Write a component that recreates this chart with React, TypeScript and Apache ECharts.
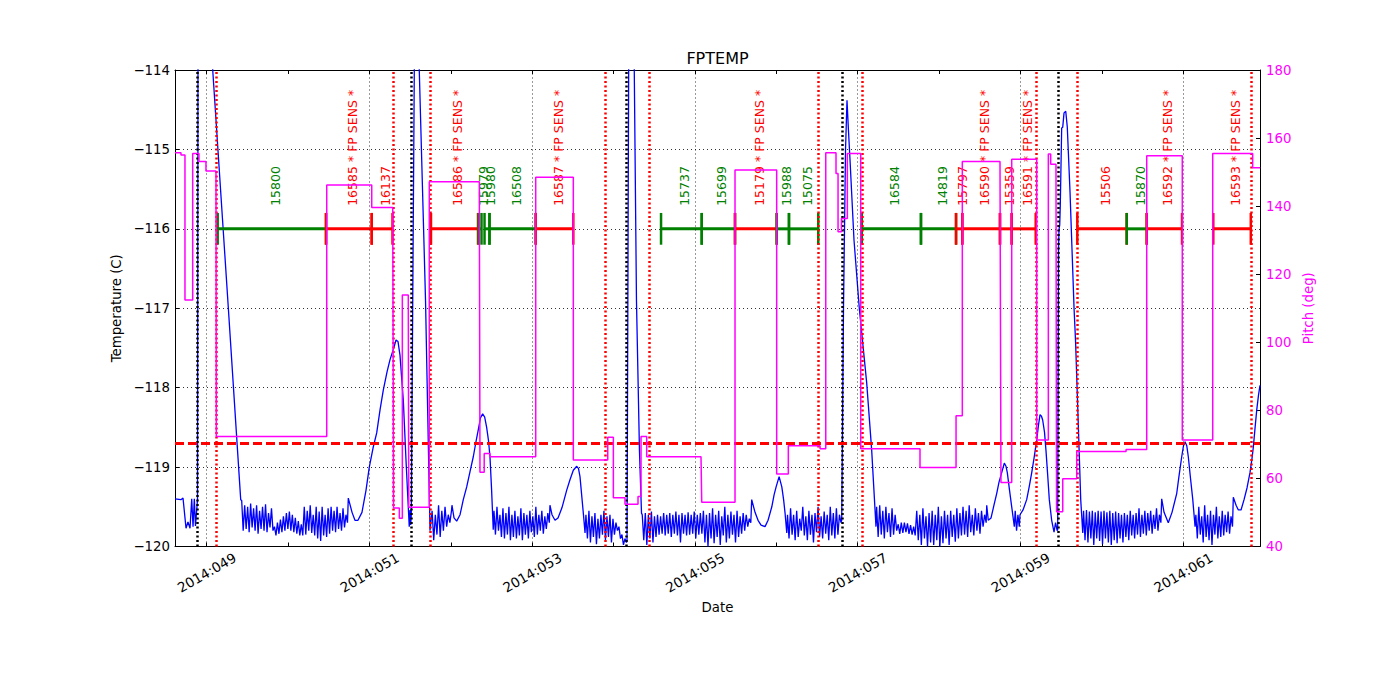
import React, { useEffect, useRef } from "react";
import * as echarts from "echarts";

const FONT = "DejaVu Sans";
const BLUE = "#0000ff";
const MAGENTA = "#ff00ff";
const RED = "#ff0000";
const GREEN = "#008000";

// x axis (day of year 2014)
const X_MIN = 48.6105;
const X_MAX = 61.943;
const DAY_TICKS = [49, 50, 51, 52, 53, 54, 55, 56, 57, 58, 59, 60, 61];
const DAY_LABELS = [49, 51, 53, 55, 57, 59, 61];
const TEMP_TICKS = { min: -120, max: -114, step: 1 };
const PITCH_TICKS = { min: 40, max: 180, step: 20 };

const TEMP_LIMIT = -118.7;
const BAR_TEMP = -116;

const BLACK_EVENTS = [48.877, 51.507, 54.165, 56.815, 59.465];
const RED_EVENTS = [49.123, 51.286, 51.753, 53.903, 54.435, 56.524, 57.049, 59.194, 59.698, 61.829];

// observations
const OBS_START = [49.135, 50.466, 51.028, 51.756, 52.34, 52.414, 52.475, 53.043, 54.583, 55.083, 55.492, 56.004, 56.155, 57.049, 57.777, 58.208, 58.285, 58.748, 58.892, 59.698, 60.305, 60.551, 61.369];
const OBS_END = [50.466, 51.028, 51.283, 52.334, 52.377, 52.475, 53.043, 53.505, 55.083, 55.492, 56.004, 56.155, 56.515, 57.777, 58.208, 58.285, 58.748, 58.892, 59.187, 60.305, 60.551, 60.985, 61.83];
const OBS_KIND = [0, 1, 1, 1, 0, 0, 0, 1, 0, 0, 1, 0, 0, 0, 0, 1, 1, 1, 1, 1, 0, 1, 1];
const OBS_LABEL = [
  "15800", "16585 * FP SENS *", "16137", "16586 * FP SENS *", "15979", "15980", "16508",
  "16587 * FP SENS *", "15737", "15699", "15179 * FP SENS *", "15988", "15075", "16584",
  "14819", "15797", "16590 * FP SENS *", "15359", "16591 * FP SENS *", "15506", "15870",
  "16592 * FP SENS *", "16593 * FP SENS *",
];

// pitch (deg), step line
const PITCH = [
  [48.6105, 155.7], [48.684, 155.7], [48.684, 155.0], [48.733, 155.0], [48.733, 112.4], [48.828, 112.4],
  [48.828, 155.5], [48.905, 155.5], [48.905, 153.1], [48.991, 153.1], [48.991, 150.3], [49.114, 150.3],
  [49.118, 72.3], [50.475, 72.3], [50.475, 146.2], [51.028, 146.2], [51.028, 139.6], [51.286, 139.6],
  [51.296, 51.3], [51.367, 51.3], [51.367, 48.3], [51.404, 48.3], [51.404, 113.9], [51.477, 113.9],
  [51.483, 51.5], [51.735, 51.5], [51.735, 147.2], [52.35, 147.2], [52.358, 61.8], [52.41, 61.8],
  [52.41, 67.3], [52.48, 67.3], [52.48, 66.4], [53.043, 66.4], [53.043, 148.5], [53.505, 148.5],
  [53.505, 65.4], [53.928, 65.4], [53.928, 72.1], [53.997, 72.1], [53.997, 54.3], [54.14, 54.3],
  [54.14, 52.4], [54.3, 52.4], [54.3, 54.7], [54.337, 54.7], [54.337, 72.3], [54.407, 72.3],
  [54.407, 66.4], [55.074, 66.4], [55.083, 53.0], [55.492, 53.0], [55.492, 150.6], [56.004, 150.6],
  [56.004, 61.3], [56.147, 61.3], [56.147, 69.6], [56.537, 69.6], [56.537, 68.7], [56.607, 68.7],
  [56.607, 155.7], [56.733, 155.7], [56.733, 149.6], [56.758, 149.6], [56.758, 132.5], [56.8, 132.5],
  [56.8, 136.4], [56.872, 136.4], [56.872, 155.5], [57.037, 155.5], [57.037, 68.7], [57.765, 68.7],
  [57.765, 63.2], [58.208, 63.2], [58.208, 78.4], [58.285, 78.4], [58.285, 153.1], [58.748, 153.1],
  [58.76, 58.8], [58.892, 58.8], [58.892, 153.8], [59.199, 153.8], [59.199, 71.3], [59.342, 71.3],
  [59.342, 155.3], [59.371, 155.3], [59.371, 152.3], [59.436, 152.3], [59.443, 50.2], [59.519, 50.2],
  [59.519, 59.9], [59.691, 59.9], [59.691, 67.9], [60.297, 67.9], [60.297, 68.5], [60.551, 68.5],
  [60.551, 154.8], [60.988, 154.8], [60.988, 71.3], [61.362, 71.3], [61.362, 155.5], [61.853, 155.5],
  [61.853, 151.3], [61.943, 151.3],
];

// temperature (C): smooth stretches as [day, temp] pairs
const T_A = [[48.611, -119.4], [48.684, -119.41], [48.709, -119.39], [48.746, -119.77], [48.77, -119.69], [48.795, -119.77], [48.816, -119.4], [48.832, -119.75], [48.848, -119.4], [48.862, -119.74], [48.875, -119.57], [48.887, -119.41], [48.893, -114.0], [48.897, -110.0], [48.95, -109.8], [49.074, -114.0], [49.266, -117.0], [49.418, -119.41]];
const T_B = [[50.74, -119.39], [50.786, -119.57], [50.822, -119.67], [50.859, -119.67], [50.908, -119.57], [50.958, -119.29], [50.998, -119.0], [51.044, -118.76], [51.089, -118.57], [51.13, -118.28], [51.17, -118.03], [51.216, -117.8], [51.252, -117.65], [51.302, -117.49], [51.326, -117.4], [51.351, -117.42], [51.375, -117.59], [51.416, -118.16], [51.449, -118.91], [51.477, -119.5], [51.489, -119.75], [51.498, -119.54], [51.507, -119.73], [51.514, -119.6], [51.551, -114.0], [51.56, -111.0], [51.585, -110.8], [51.612, -114.0], [51.689, -116.9], [51.744, -119.8]];
const T_C = [[52.014, -119.48], [52.039, -119.64], [52.072, -119.68], [52.113, -119.6], [52.153, -119.41], [52.195, -119.25], [52.235, -119.06], [52.276, -118.87], [52.309, -118.68], [52.337, -118.53], [52.364, -118.38], [52.391, -118.33], [52.416, -118.37], [52.44, -118.5], [52.462, -118.66], [52.481, -118.87], [52.501, -119.29], [52.521, -119.79]];
const T_D = [[53.218, -119.48], [53.243, -119.6], [53.28, -119.67], [53.317, -119.64], [53.366, -119.51], [53.424, -119.29], [53.464, -119.16], [53.505, -119.04], [53.547, -118.99], [53.569, -119.02], [53.587, -119.12], [53.628, -119.58], [53.649, -119.83]];
const T_E = [[54.165, -119.92], [54.185, -114.0], [54.19, -111.0], [54.22, -110.8], [54.254, -114.0], [54.281, -116.9], [54.318, -118.8], [54.343, -119.58]];
const T_F = [[55.697, -119.41], [55.738, -119.57], [55.775, -119.67], [55.812, -119.73], [55.861, -119.75], [55.898, -119.67], [55.944, -119.5], [55.972, -119.35], [55.997, -119.25], [56.034, -119.12], [56.067, -119.25], [56.089, -119.41], [56.107, -119.58], [56.128, -119.83]];
const T_G = [[56.803, -119.67], [56.825, -117.0], [56.85, -115.0], [56.868, -114.38], [56.886, -114.76], [56.905, -115.13], [56.954, -116.14], [57.019, -117.0], [57.11, -117.94], [57.171, -118.78], [57.199, -119.29], [57.224, -119.75]];
const T_H = [[58.585, -119.48], [58.604, -119.67], [58.638, -119.64], [58.674, -119.48], [58.708, -119.33], [58.736, -119.19], [58.769, -119.07], [58.801, -118.95], [58.822, -118.99], [58.838, -119.07], [58.865, -119.29], [58.892, -119.5], [58.924, -119.75]];
const T_I = [[58.994, -119.6], [59.031, -119.54], [59.076, -119.41], [59.105, -119.26], [59.138, -119.07], [59.166, -118.89], [59.199, -118.66], [59.221, -118.47], [59.24, -118.34], [59.258, -118.36], [59.273, -118.41], [59.295, -118.56], [59.313, -118.79], [59.334, -119.1], [59.354, -119.41], [59.383, -119.67]];
const T_J = [[59.457, -119.79], [59.467, -116.27], [59.473, -116.01], [59.482, -115.95], [59.489, -115.7], [59.506, -114.73], [59.519, -114.72], [59.535, -114.54], [59.556, -114.52], [59.575, -114.72], [59.609, -115.55], [59.658, -117.0], [59.676, -117.4], [59.711, -118.49], [59.74, -119.41], [59.765, -119.83]];
const T_K = [[60.735, -119.4], [60.764, -119.57], [60.816, -119.7], [60.862, -119.57], [60.92, -119.33], [60.948, -119.11], [60.981, -118.87], [61.003, -118.73], [61.022, -118.68], [61.043, -118.73], [61.062, -118.87], [61.089, -119.14], [61.117, -119.41], [61.145, -119.75]];
const T_L = [[61.615, -119.38], [61.649, -119.48], [61.677, -119.54], [61.71, -119.54], [61.747, -119.41], [61.784, -119.26], [61.82, -119.07], [61.845, -118.89], [61.861, -118.75], [61.882, -118.51], [61.903, -118.28], [61.925, -118.09], [61.943, -117.97]];

// temperature (C): noisy stretches, readings at a regular cadence between two days
const N_B_RANGE = [49.43, 50.73];
const N_B = [-119.42, -119.8, -119.48, -119.78, -119.5, -119.82, -119.46, -119.76, -119.52, -119.8, -119.48, -119.84, -119.55, -119.78, -119.5, -119.8, -119.47, -119.82, -119.58, -119.76, -119.52, -119.8,
  -119.75, -119.86, -119.7, -119.84, -119.66, -119.82, -119.62, -119.8, -119.58, -119.78, -119.56, -119.8, -119.6, -119.82, -119.64, -119.84, -119.68, -119.86, -119.72, -119.86,
  -119.5, -119.85, -119.55, -119.8, -119.48, -119.83, -119.6, -119.86, -119.5, -119.9, -119.56, -119.93, -119.5, -119.86, -119.6, -119.88, -119.52, -119.84, -119.5, -119.8, -119.55, -119.82, -119.5, -119.78, -119.58, -119.8, -119.52, -119.76, -119.6, -119.7];
const N_C_RANGE = [51.75, 52.008];
const N_C = [-119.8, -119.55, -119.92, -119.6, -119.85, -119.48, -119.88, -119.55, -119.8, -119.5, -119.75, -119.6, -119.7, -119.55];
const N_D_RANGE = [52.53, 53.21];
const N_D = [-119.55, -119.85, -119.5, -119.8, -119.6, -119.88, -119.52, -119.9, -119.58, -119.85, -119.5, -119.92, -119.6, -119.88, -119.55, -119.9, -119.62, -119.86, -119.52, -119.92, -119.58, -119.85, -119.6, -119.9, -119.55, -119.82, -119.62, -119.88, -119.5, -119.85, -119.6, -119.8, -119.55, -119.84, -119.62, -119.78, -119.58, -119.7];
const N_E_RANGE = [53.66, 54.158];
const N_E = [-119.6, -119.9, -119.55, -119.95, -119.62, -119.88, -119.58, -119.97, -119.65, -119.9, -119.6, -119.85, -119.55, -119.92, -119.62, -119.88, -119.6, -119.95, -119.65, -119.85, -119.7, -119.8, -119.75, -119.9, -119.85, -119.98, -119.9, -119.95];
const N_F_RANGE = [54.352, 55.686];
const N_F = [-119.6, -119.92, -119.58, -119.98, -119.6, -119.9, -119.56, -119.95, -119.62, -119.88,
  -119.6, -119.85, -119.62, -119.84, -119.58, -119.86, -119.6, -119.84, -119.58, -119.88, -119.6, -119.84, -119.56, -119.86, -119.6, -119.95, -119.58, -119.84, -119.6, -119.86, -119.57, -119.85, -119.6, -119.84, -119.56, -119.9, -119.6, -119.85, -119.58, -119.84,
  -119.55, -119.95, -119.6, -120.0, -119.58, -119.9, -119.52, -119.96, -119.6, -119.88, -119.55, -119.98, -119.62, -119.86, -119.5, -119.95, -119.6, -119.9, -119.56, -119.85, -119.6, -119.95, -119.55, -119.88, -119.62, -119.84, -119.58, -119.8, -119.6, -119.75, -119.65, -119.7];
const N_G_RANGE = [56.137, 56.794];
const N_G = [-119.6, -119.9, -119.52, -119.85, -119.6, -119.92, -119.55, -119.88, -119.65, -119.8, -119.5, -119.86, -119.62, -119.92, -119.55, -119.85, -119.6, -119.95, -119.58, -119.82, -119.5, -119.88, -119.62, -119.9, -119.56, -119.84, -119.6, -119.92, -119.5, -119.86, -119.58, -119.9, -119.52, -119.85, -119.6, -119.7];
const N_H_RANGE = [57.232, 58.578];
const N_H = [-119.5, -119.88, -119.48, -119.85, -119.55, -119.9, -119.5, -119.82, -119.58, -119.88, -119.52, -119.85, -119.6, -119.8,
  -119.72, -119.84, -119.7, -119.83, -119.7, -119.82, -119.71, -119.84, -119.73, -119.85, -119.75, -119.86,
  -119.55, -119.92, -119.6, -119.98, -119.52, -119.9, -119.62, -120.0, -119.58, -119.95, -119.55, -119.98, -119.6, -119.92, -119.5, -120.0, -119.62, -119.96, -119.55, -119.9, -119.6, -119.98, -119.55, -119.88, -119.6, -119.94, -119.52, -119.9, -119.58, -119.86,
  -119.5, -119.85, -119.55, -119.88, -119.48, -119.82, -119.6, -119.86, -119.52, -119.8, -119.58, -119.84, -119.55, -119.75, -119.6, -119.7];
const N_I_RANGE = [58.935, 58.985];
const N_I = [-119.55, -119.8, -119.6, -119.75];
const N_J_RANGE = [59.393, 59.45];
const N_J = [-119.72, -119.82, -119.7, -119.8];
const N_K_RANGE = [59.775, 60.725];
const N_K = [-119.55, -119.92, -119.54, -119.95, -119.56, -119.9, -119.55, -119.98, -119.57, -119.9, -119.55, -119.93, -119.56, -119.97, -119.55, -119.9, -119.57, -119.95, -119.55, -119.98, -119.58, -119.92, -119.56, -119.96, -119.58, -119.9, -119.6, -119.95, -119.58, -119.88, -119.6, -119.92, -119.55, -119.86, -119.6, -119.9, -119.58, -119.85, -119.52, -119.88, -119.6, -119.84, -119.55, -119.86, -119.58, -119.8, -119.55, -119.84, -119.6, -119.78, -119.52, -119.8, -119.6, -119.7];
const N_L_RANGE = [61.155, 61.605];
const N_L = [-119.6, -119.9, -119.5, -119.85, -119.62, -119.95, -119.48, -119.88, -119.6, -119.92, -119.55, -119.98, -119.6, -119.85, -119.5, -119.9, -119.62, -119.88, -119.55, -119.86, -119.6, -119.82, -119.56, -119.84, -119.62, -119.75];

function spread(range: number[], vals: number[]) {
  const a = range[0];
  const b = range[1];
  const n = vals.length;
  return vals.map((v, i) => [a + ((b - a) * i) / (n - 1), v]);
}

const TEMP = [
  ...T_A, ...spread(N_B_RANGE, N_B), ...T_B, ...spread(N_C_RANGE, N_C), ...T_C,
  ...spread(N_D_RANGE, N_D), ...T_D, ...spread(N_E_RANGE, N_E), ...T_E,
  ...spread(N_F_RANGE, N_F), ...T_F, ...spread(N_G_RANGE, N_G), ...T_G,
  ...spread(N_H_RANGE, N_H), ...T_H, ...spread(N_I_RANGE, N_I), ...T_I,
  ...spread(N_J_RANGE, N_J), ...T_J, ...spread(N_K_RANGE, N_K), ...T_K,
  ...spread(N_L_RANGE, N_L), ...T_L,
];

const minus = (v: number) => (v < 0 ? "\u2212" + Math.abs(v) : String(v));

export default function App() {
  const ref = useRef<HTMLDivElement>(null);
  useEffect(() => {
    if (!ref.current) return;
    const chart = echarts.init(ref.current, undefined, { renderer: "svg" });
    const tickStyle = { color: "#000", width: 1 };
    const baseX = {
      type: "value",
      min: X_MIN,
      max: X_MAX,
      axisLine: { show: true, onZero: false, lineStyle: { color: "#000", width: 1 } },
      axisTick: { show: true, inside: true, length: 4, customValues: DAY_TICKS, lineStyle: tickStyle },
      splitLine: { show: false },
    };
    const obsData = OBS_START.map((s, i) => [s, OBS_END[i], BAR_TEMP, OBS_KIND[i]]);
    chart.setOption({
      animation: false,
      backgroundColor: "#fff",
      textStyle: { fontFamily: FONT },
      graphic: [
        {
          type: "text",
          x: 717.5,
          y: 58,
          style: { text: "FPTEMP", fill: "#000", font: `16px "${FONT}"`, align: "center", verticalAlign: "middle" },
        },
      ],
      grid: { left: 175, right: 140, top: 70, bottom: 153.5, containLabel: false },
      xAxis: [
        {
          ...baseX,
          position: "bottom",
          name: "Date",
          nameLocation: "middle",
          nameGap: 51,
          nameTextStyle: { color: "#000", fontSize: 13.3, fontFamily: FONT },
          axisLabel: {
            show: true,
            customValues: DAY_LABELS,
            formatter: (v: number) => "2014:" + String(Math.round(v)).padStart(3, "0"),
            rotate: 30,
            align: "center",
            verticalAlign: "middle",
            margin: 26,
            color: "#000",
            fontSize: 13.6,
            fontFamily: FONT,
          },
        },
        { ...baseX, position: "top", axisLabel: { show: false } },
      ],
      yAxis: [
        {
          type: "value",
          min: TEMP_TICKS.min,
          max: TEMP_TICKS.max,
          interval: TEMP_TICKS.step,
          position: "left",
          name: "Temperature (C)",
          nameLocation: "middle",
          nameRotate: 90,
          nameGap: 49,
          nameTextStyle: { color: "#000", fontSize: 13.3, fontFamily: FONT },
          axisLine: { show: true, onZero: false, lineStyle: { color: "#000", width: 1 } },
          axisTick: { show: true, inside: true, length: 4, lineStyle: tickStyle },
          axisLabel: { formatter: minus, color: "#000", fontSize: 13.3, fontFamily: FONT, margin: 5 },
          splitLine: { show: true, lineStyle: { color: "#000", width: 0.8, type: [1, 3] } },
        },
        {
          type: "value",
          min: PITCH_TICKS.min,
          max: PITCH_TICKS.max,
          interval: PITCH_TICKS.step,
          position: "right",
          name: "Pitch (deg)",
          nameLocation: "middle",
          nameRotate: 90,
          nameGap: 36,
          nameTextStyle: { color: MAGENTA, fontSize: 13.3, fontFamily: FONT },
          axisLine: { show: true, onZero: false, lineStyle: { color: "#000", width: 1 } },
          axisTick: { show: true, inside: true, length: 4, lineStyle: tickStyle },
          axisLabel: { color: MAGENTA, fontSize: 13.3, fontFamily: FONT, margin: 6 },
          splitLine: { show: false },
        },
      ],
      series: [
        {
          name: "vgrid",
          type: "line",
          data: [],
          z: 1,
          silent: true,
          markLine: {
            silent: true,
            symbol: ["none", "none"],
            label: { show: false },
            lineStyle: { color: "#000", width: 0.8, type: [1, 3] },
            data: DAY_LABELS.map((d) => ({ xAxis: d })),
          },
        },
        {
          name: "FPTEMP",
          type: "line",
          data: TEMP,
          showSymbol: false,
          symbol: "none",
          clip: true,
          z: 2,
          lineStyle: { color: BLUE, width: 1.3 },
        },
        {
          name: "obs",
          type: "custom",
          z: 3,
          data: obsData,
          encode: { x: [0, 1], y: 2 },
          renderItem: (params: any, api: any) => {
            const s = api.value(0);
            const e = api.value(1);
            const y = api.value(2);
            const color = api.value(3) === 1 ? RED : GREEN;
            const p0 = api.coord([s, y]);
            const p1 = api.coord([e, y]);
            const capTop = api.coord([s, y + 0.2])[1];
            const capBot = api.coord([s, y - 0.2])[1];
            const mid = api.coord([(s + e) / 2, y]);
            return {
              type: "group",
              children: [
                { type: "line", shape: { x1: p0[0], y1: p0[1], x2: p1[0], y2: p1[1] }, style: { stroke: color, lineWidth: 3 } },
                { type: "line", shape: { x1: p0[0], y1: capTop, x2: p0[0], y2: capBot }, style: { stroke: color, lineWidth: 2.5 } },
                { type: "line", shape: { x1: p1[0], y1: capTop, x2: p1[0], y2: capBot }, style: { stroke: color, lineWidth: 2.5 } },
                {
                  type: "text",
                  x: mid[0] + 3.5,
                  y: mid[1] - 23,
                  rotation: Math.PI / 2,
                  style: {
                    text: OBS_LABEL[params.dataIndex],
                    fill: color,
                    font: `12.5px "${FONT}"`,
                    align: "left",
                    verticalAlign: "middle",
                  },
                },
              ],
            };
          },
        },
        {
          name: "blackEvents",
          type: "line",
          data: [],
          z: 4,
          silent: true,
          markLine: {
            silent: true,
            symbol: ["none", "none"],
            label: { show: false },
            lineStyle: { color: "#000", width: 2.5, type: [2, 2.5] },
            data: BLACK_EVENTS.map((d) => ({ xAxis: d })),
          },
        },
        {
          name: "redEvents",
          type: "line",
          data: [],
          z: 4,
          silent: true,
          markLine: {
            silent: true,
            symbol: ["none", "none"],
            label: { show: false },
            lineStyle: { color: RED, width: 2.5, type: [2, 2.5] },
            data: RED_EVENTS.map((d) => ({ xAxis: d })),
          },
        },
        {
          name: "limit",
          type: "line",
          data: [],
          z: 4,
          silent: true,
          markLine: {
            silent: true,
            symbol: ["none", "none"],
            label: { show: false },
            lineStyle: { color: RED, width: 3, type: [9, 4] },
            data: [{ yAxis: TEMP_LIMIT }],
          },
        },
        {
          name: "Pitch",
          type: "line",
          yAxisIndex: 1,
          data: PITCH,
          showSymbol: false,
          symbol: "none",
          z: 5,
          lineStyle: { color: MAGENTA, width: 1.5 },
        },
      ],
    });
    return () => chart.dispose();
  }, []);
  return (
    <div
      ref={ref}
      style={{ position: "absolute", left: 0, top: 0, width: 1400, height: 700, background: "#fff" }}
    />
  );
}
